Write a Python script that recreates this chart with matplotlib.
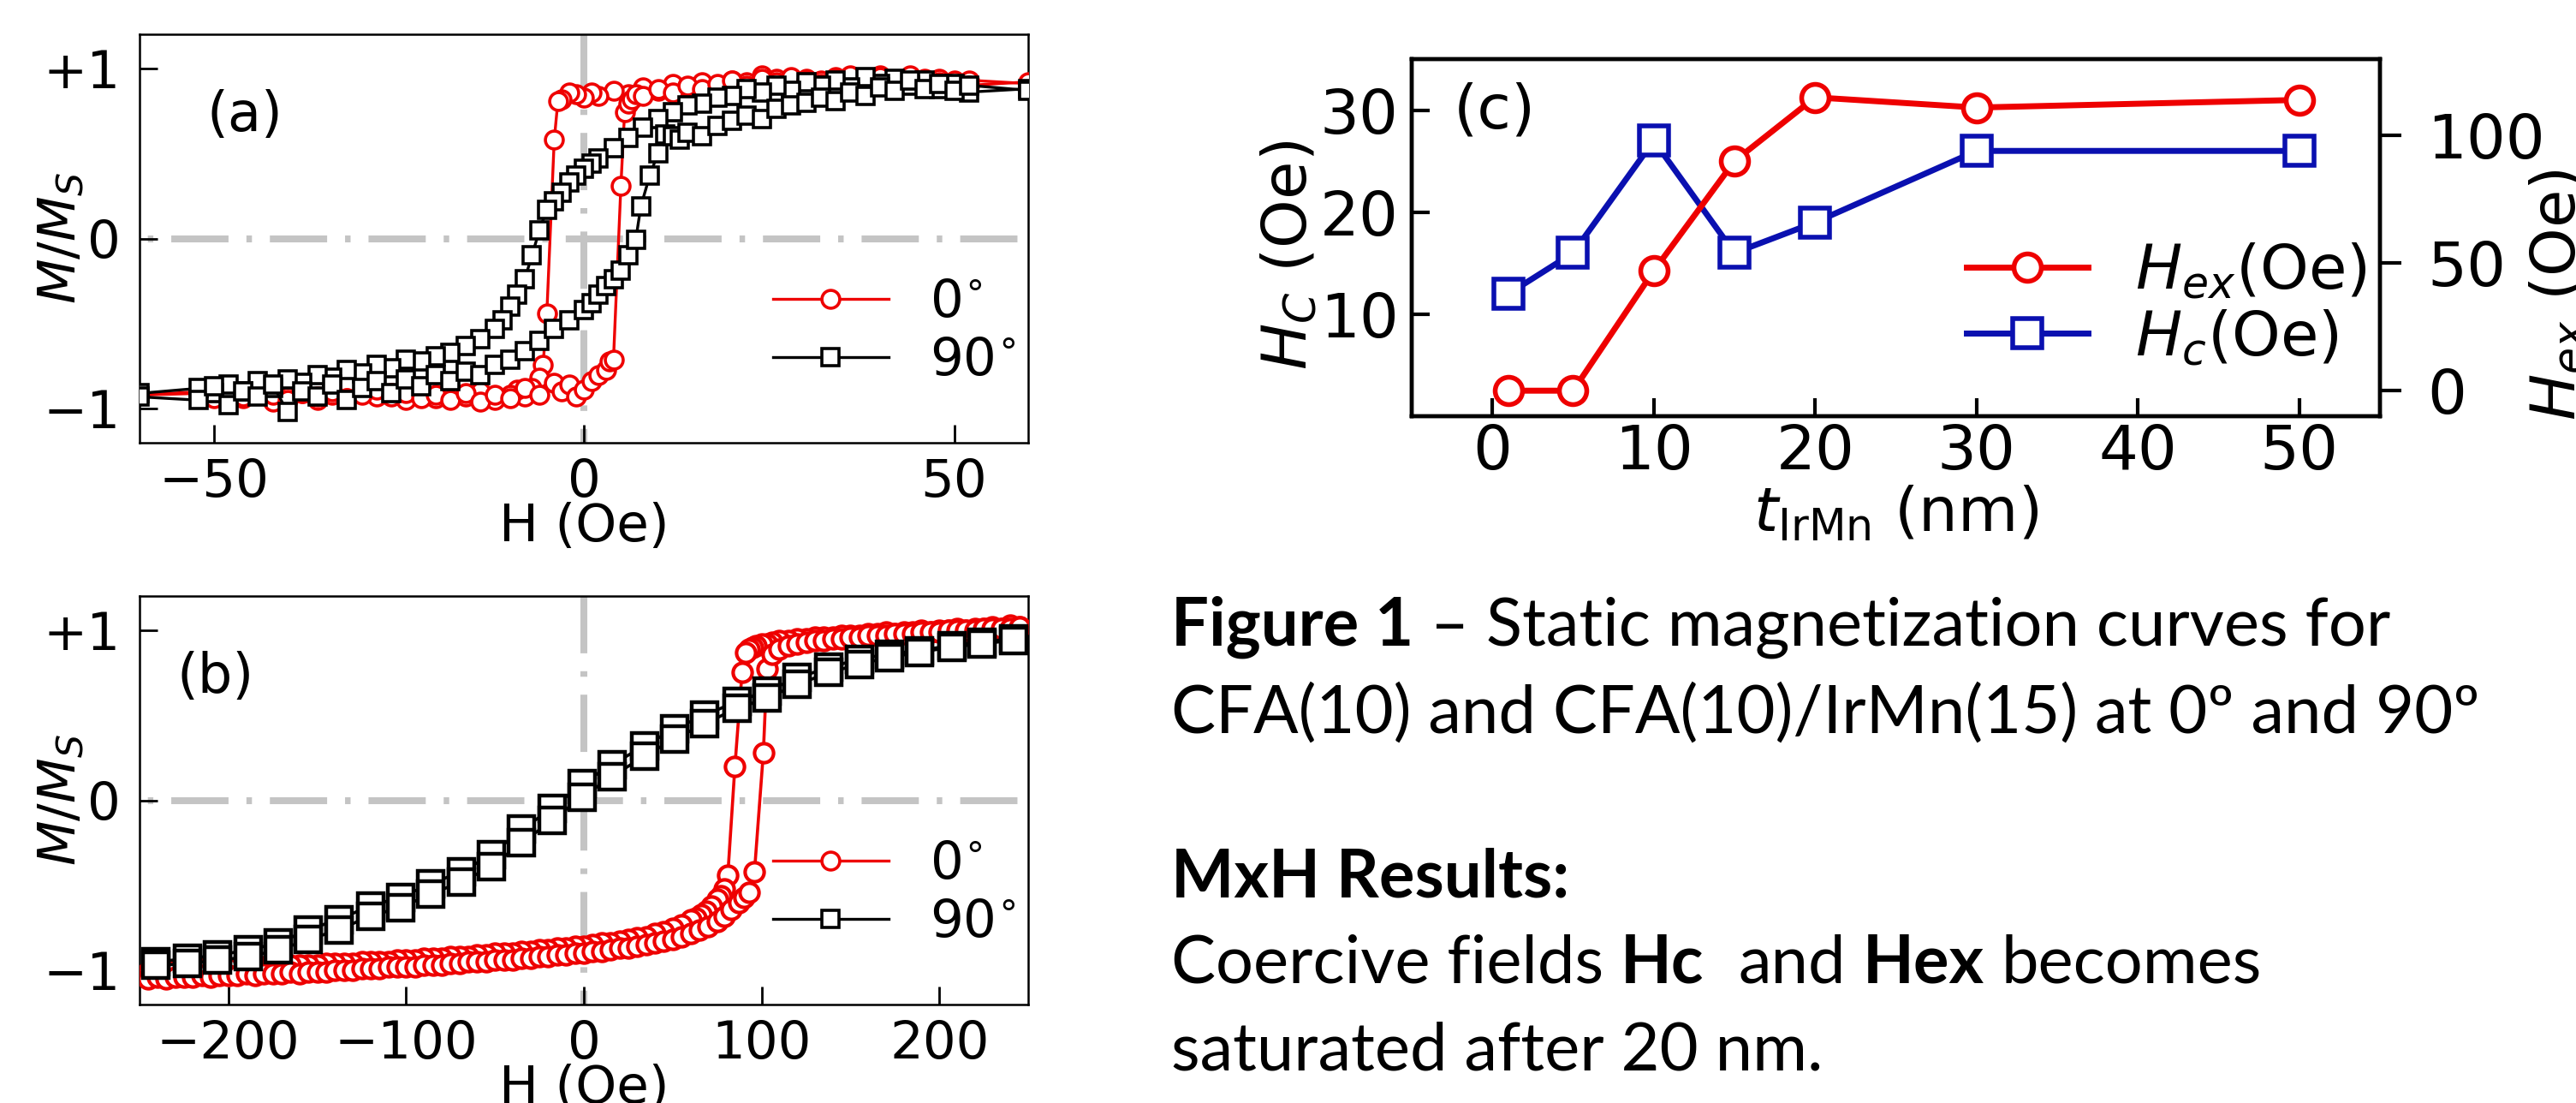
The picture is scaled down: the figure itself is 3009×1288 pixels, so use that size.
import matplotlib
matplotlib.use('Agg')
import matplotlib.pyplot as plt
from matplotlib.lines import Line2D

# ---- panel (a): CFA(10), 0 deg (red) and 90 deg (black) loops ----
a0_down_H = [60, 52, 50, 48, 46, 44, 42, 40, 38, 36,
             34, 32, 30, 28, 26, 24, 22, 20, 18, 16,
             14, 12, 10, 8, 6, 4, 2, 1, 0, -1,
             -2, -3, -3.5, -4, -5, -5.5, -6, -7, -8, -9,
             -10, -12, -14, -16, -18, -20, -22, -24, -26, -28,
             -30, -32, -34, -36, -38, -40, -42, -44, -46, -48,
             -50, -52, -60]
a0_down_M = [0.91, 0.93, 0.90, 0.94, 0.92, 0.95, 0.93, 0.96, 0.94, 0.92,
             0.95, 0.93, 0.94, 0.91, 0.94, 0.96, 0.92, 0.93, 0.90, 0.92,
             0.89, 0.91, 0.87, 0.89, 0.85, 0.87, 0.84, 0.86, 0.83, 0.85,
             0.86, 0.82, 0.81, 0.58, -0.44, -0.74, -0.82, -0.88, -0.93, -0.89,
             -0.92, -0.95, -0.90, -0.93, -0.91, -0.94, -0.92, -0.95, -0.91, -0.93,
             -0.90, -0.94, -0.92, -0.95, -0.91, -0.93, -0.96, -0.92, -0.94, -0.90,
             -0.93, -0.91, -0.92]
a0_up_H = [-60, -52, -50, -48, -46, -44, -42, -40, -38, -36,
           -34, -32, -30, -28, -26, -24, -22, -20, -18, -16,
           -14, -12, -10, -8, -6, -4, -3, -2, -1, 0,
           1, 2, 3, 3.5, 4, 5, 5.5, 6, 6.5, 7,
           8, 10, 12, 14, 16, 18, 20, 22, 24, 26,
           28, 30, 32, 34, 36, 38, 40, 42, 44, 46,
           48, 50, 52, 60]
a0_up_M = [-0.92, -0.90, -0.94, -0.91, -0.93, -0.89, -0.92, -0.95, -0.91, -0.93,
           -0.90, -0.94, -0.92, -0.89, -0.93, -0.91, -0.94, -0.92, -0.95, -0.91,
           -0.96, -0.92, -0.94, -0.88, -0.92, -0.85, -0.90, -0.86, -0.93, -0.89,
           -0.84, -0.80, -0.77, -0.72, -0.71, 0.31, 0.74, 0.79, 0.82, 0.85,
           0.84, 0.88, 0.86, 0.90, 0.88, 0.91, 0.93, 0.90, 0.94, 0.92,
           0.95, 0.93, 0.91, 0.94, 0.96, 0.92, 0.95, 0.93, 0.96, 0.94,
           0.92, 0.93, 0.90, 0.92]

a90_down_H = [60, 52, 50, 48, 46, 44, 42, 40, 38, 36,
              34, 32, 30, 28, 26, 24, 22, 20, 18, 16,
              14, 12, 10, 8, 6, 4, 2, 1, 0, -1,
              -2, -3, -4, -5, -6, -7, -8, -9, -10, -11,
              -12, -14, -16, -18, -20, -22, -24, -26, -28, -30,
              -32, -34, -36, -38, -40, -42, -44, -46, -48, -50,
              -52, -60]
a90_down_M = [0.88, 0.86, 0.91, 0.88, 0.93, 0.90, 0.94, 0.91, 0.95, 0.89,
              0.93, 0.90, 0.92, 0.87, 0.90, 0.86, 0.88, 0.84, 0.83, 0.79,
              0.78, 0.74, 0.70, 0.65, 0.59, 0.53, 0.47, 0.44, 0.41, 0.37,
              0.33, 0.27, 0.22, 0.17, 0.05, -0.10, -0.24, -0.33, -0.40, -0.48,
              -0.53, -0.59, -0.63, -0.67, -0.69, -0.72, -0.71, -0.76, -0.74, -0.79,
              -0.77, -0.82, -0.80, -0.85, -0.83, -0.88, -0.84, -0.90, -0.86, -0.91,
              -0.88, -0.91]
a90_up_H = [-60, -52, -50, -48, -46, -44, -42, -40, -38, -36,
            -34, -32, -30, -28, -26, -24, -22, -20, -18, -16,
            -14, -12, -10, -8, -6, -4, -2, 0, 1, 2,
            3, 4, 5, 6, 7, 7.7, 8.9, 10, 11, 12,
            13, 14, 16, 18, 20, 22, 24, 26, 28, 30,
            32, 34, 36, 38, 40, 42, 44, 46, 48, 50,
            52, 60]
a90_up_M = [-0.93, -0.95, -0.87, -0.98, -0.90, -0.93, -0.86, -1.02, -0.90, -0.93,
            -0.86, -0.95, -0.88, -0.84, -0.91, -0.83, -0.87, -0.80, -0.84, -0.78,
            -0.80, -0.74, -0.71, -0.66, -0.60, -0.53, -0.48, -0.42, -0.38, -0.33,
            -0.28, -0.24, -0.19, -0.10, -0.01, 0.19, 0.37, 0.50, 0.61, 0.60,
            0.58, 0.62, 0.60, 0.66, 0.69, 0.72, 0.70, 0.76, 0.78, 0.80,
            0.83, 0.81, 0.86, 0.84, 0.89, 0.87, 0.93, 0.88, 0.91, 0.87,
            0.90, 0.87]

# ---- panel (b): CFA(10)/IrMn(15) ----
b0_down_H = [245, 240, 235, 230, 225, 220, 215, 210, 205, 200,
             195, 190, 185, 180, 175, 170, 165, 160, 155, 150,
             145, 140, 135, 130, 125, 120, 115, 110, 106, 103,
             100, 97, 95, 93, 91, 89, 85, 81, 79, 77,
             75, 72, 69, 66, 63, 60, 55, 50, 45, 40,
             35, 30, 25, 20, 15, 10, 5, 0, -5, -10,
             -15, -20, -25, -30, -35, -40, -45, -50, -55, -60,
             -65, -70, -75, -80, -85, -90, -95, -100, -105, -110,
             -115, -120, -125, -130, -135, -140, -145, -150, -155, -160,
             -165, -170, -175, -180, -185, -190, -195, -200, -205, -210,
             -215, -220, -225, -230, -235, -240, -245]
b0_down_M = [1.02, 1.03, 1.01, 1.02, 1.01, 1.01, 1.00, 1.01, 1.00, 1.00,
             0.99, 1.00, 0.99, 0.99, 0.98, 0.99, 0.98, 0.98, 0.97, 0.97,
             0.97, 0.96, 0.96, 0.96, 0.95, 0.95, 0.94, 0.94, 0.93, 0.92,
             0.92, 0.91, 0.90, 0.89, 0.87, 0.75, 0.20, -0.44, -0.52, -0.56,
             -0.58, -0.62, -0.65, -0.67, -0.69, -0.70, -0.73, -0.75, -0.77, -0.78,
             -0.80, -0.81, -0.82, -0.83, -0.84, -0.84, -0.85, -0.86, -0.86, -0.87,
             -0.87, -0.88, -0.88, -0.89, -0.89, -0.90, -0.90, -0.90, -0.91, -0.91,
             -0.92, -0.92, -0.92, -0.93, -0.93, -0.93, -0.94, -0.94, -0.94, -0.95,
             -0.95, -0.95, -0.95, -0.96, -0.96, -0.96, -0.96, -0.97, -0.97, -0.97,
             -0.97, -0.98, -0.98, -0.98, -0.98, -0.98, -0.99, -0.99, -0.99, -0.99,
             -0.99, -1.00, -1.00, -1.00, -1.00, -1.01, -1.01]
b0_up_H = [-245, -240, -235, -230, -225, -220, -215, -210, -205, -200,
           -195, -190, -185, -180, -175, -170, -165, -160, -155, -150,
           -145, -140, -135, -130, -125, -120, -115, -110, -105, -100,
           -95, -90, -85, -80, -75, -70, -65, -60, -55, -50,
           -45, -40, -35, -30, -25, -20, -15, -10, -5, 0,
           5, 10, 15, 20, 25, 30, 35, 40, 45, 50,
           55, 60, 65, 70, 75, 79, 83, 87, 90, 93,
           96, 101, 103, 106, 110, 115, 120, 125, 130, 135,
           140, 145, 150, 155, 160, 165, 170, 175, 180, 185,
           190, 195, 200, 205, 210, 215, 220, 225, 230, 235,
           240, 245]
b0_up_M = [-1.05, -1.04, -1.05, -1.04, -1.04, -1.04, -1.03, -1.04, -1.03, -1.03,
           -1.03, -1.02, -1.03, -1.02, -1.02, -1.02, -1.01, -1.02, -1.01, -1.01,
           -1.01, -1.00, -1.00, -1.00, -0.99, -0.99, -0.99, -0.98, -0.98, -0.98,
           -0.98, -0.97, -0.97, -0.97, -0.96, -0.96, -0.95, -0.95, -0.95, -0.94,
           -0.94, -0.94, -0.93, -0.93, -0.92, -0.92, -0.91, -0.91, -0.90, -0.90,
           -0.89, -0.89, -0.88, -0.87, -0.87, -0.86, -0.85, -0.84, -0.83, -0.82,
           -0.80, -0.78, -0.76, -0.74, -0.71, -0.68, -0.64, -0.60, -0.57, -0.54,
           -0.42, 0.28, 0.77, 0.86, 0.89, 0.91, 0.92, 0.93, 0.94, 0.94,
           0.95, 0.95, 0.96, 0.96, 0.97, 0.97, 0.97, 0.98, 0.98, 0.98,
           0.99, 0.99, 0.99, 1.00, 1.00, 1.00, 1.00, 1.01, 1.01, 1.01,
           1.01, 1.02]

b90_H = [-241, -223, -206, -189, -172, -155, -138, -120, -103, -86,
         -69, -52, -35, -18, -1, 16, 34, 51, 68, 86,
         103, 120, 138, 155, 172, 189, 207, 224, 242]
b90_M_down = [-0.95, -0.93, -0.91, -0.88, -0.84, -0.76, -0.70, -0.62, -0.57, -0.49,
              -0.42, -0.32, -0.17, -0.05, 0.10, 0.21, 0.32, 0.42, 0.50, 0.58,
              0.64, 0.72, 0.78, 0.83, 0.86, 0.88, 0.91, 0.93, 0.95]
b90_M_up = [-0.97, -0.96, -0.94, -0.92, -0.88, -0.82, -0.76, -0.68, -0.63, -0.55,
            -0.48, -0.39, -0.25, -0.12, 0.02, 0.14, 0.26, 0.36, 0.45, 0.54,
            0.60, 0.68, 0.75, 0.80, 0.84, 0.87, 0.90, 0.92, 0.94]

# ---- panel (c): thickness series ----
t_irmn = [1, 5, 10, 15, 20, 30, 50]
hc_vals = [12, 16, 27, 16, 19, 26, 26]
hex_vals = [0, 0, 47, 90, 115, 111, 114]

RED = '#ee0000'
BLUE = '#0a10b0'
GRAY = '#c4c4c4'

W, H = 3009, 1288
fig = plt.figure(figsize=(W / 100, H / 100), dpi=100)


def px_axes(l, t, r, b):
    return fig.add_axes([l / W, 1 - b / H, (r - l) / W, (b - t) / H])


def loop_axes(ax, xlim, xticks, tag, tagx):
    ax.set_xlim(xlim)
    ax.set_ylim(-1.2, 1.2)
    ax.set_xticks(xticks)
    ax.set_yticks([-1, 0, 1])
    ax.set_yticklabels(['\u22121', '0', '+1'])
    ax.tick_params(axis='both', direction='in', length=15, width=2,
                   labelsize=44, top=False, right=False)
    ax.tick_params(axis='x', pad=12)
    ax.tick_params(axis='y', pad=16)
    for s in ax.spines.values():
        s.set_linewidth(1.8)
    ax.plot([xlim[0], xlim[1]], [0, 0], color=GRAY, lw=5.8,
            ls=(9.7, (8.3, 2.6, 0.8, 2.6)), zorder=1)
    ax.plot([0, 0], [1.2, -1.2], color=GRAY, lw=5.8,
            ls=(0, (8.3, 2.6, 0.8, 2.6)), zorder=1)
    ax.set_xlabel('H (Oe)', fontsize=44)
    ax.xaxis.set_label_coords(0.5, -0.145)
    ax.set_ylabel('$M/M_S$', fontsize=44)
    ax.yaxis.set_label_coords(-0.059, 0.5)
    ax.text(tagx, 0.8, tag, transform=ax.transAxes, fontsize=46,
            ha='left', va='center')


def loop_legend(ax):
    hr = Line2D([], [], color=RED, marker='o', ms=15, mew=2.6, mfc='white', lw=2.4)
    hk = Line2D([], [], color='black', marker='s', ms=15, mew=2.6, mfc='white', lw=2.4)
    ax.legend([hr, hk], ['$0^{\\circ}$', '$90^{\\circ}$'], loc='center left',
              bbox_to_anchor=(0.713, 0.271), frameon=False, fontsize=44,
              handlelength=2.2, handletextpad=0.8, labelspacing=0.15,
              borderpad=0, borderaxespad=0)


# panel (a)
ax_a = px_axes(163, 40, 1201, 517)
loop_axes(ax_a, (-60, 60), [-50, 0, 50], '(a)', 0.076)
ax_a.plot(a0_down_H, a0_down_M, color=RED, marker='o', ms=15, mew=2.6,
          mfc='white', lw=2.4, zorder=3)
ax_a.plot(a0_up_H, a0_up_M, color=RED, marker='o', ms=15, mew=2.6,
          mfc='white', lw=2.4, zorder=3)
ax_a.plot(a90_down_H, a90_down_M, color='black', marker='s', ms=15,
          mew=2.6, mfc='white', lw=2.4, zorder=4)
ax_a.plot(a90_up_H, a90_up_M, color='black', marker='s', ms=15, mew=2.6,
          mfc='white', lw=2.4, zorder=4)
loop_legend(ax_a)

# panel (b)
ax_b = px_axes(163, 696, 1201, 1173)
loop_axes(ax_b, (-250, 250), [-200, -100, 0, 100, 200], '(b)', 0.042)
ax_b.plot(b0_down_H, b0_down_M, color=RED, marker='o', ms=16, mew=3,
          mfc='white', lw=2.6, zorder=3)
ax_b.plot(b0_up_H, b0_up_M, color=RED, marker='o', ms=16, mew=3,
          mfc='white', lw=2.6, zorder=3)
ax_b.plot(b90_H[::-1], b90_M_down[::-1], color='black', marker='s',
          ms=21, mew=3.2, mfc='white', lw=2.6, zorder=4)
ax_b.plot(b90_H, b90_M_up, color='black', marker='s', ms=21, mew=3.2,
          mfc='white', lw=2.6, zorder=4)
loop_legend(ax_b)

# panel (c)
ax_c = px_axes(1649, 69, 2780, 486)
ax_r = ax_c.twinx()
hc_line, = ax_c.plot(t_irmn, hc_vals, color=BLUE, marker='s', ms=24, mew=4,
                     mfc='white', lw=5)
hex_line, = ax_r.plot(t_irmn, hex_vals, color=RED, marker='o', ms=23, mew=4,
                      mfc='white', lw=5)
ax_c.set_xlim(-5, 55)
ax_c.set_ylim(0, 35)
ax_r.set_ylim(-10, 130)
ax_c.set_xticks([0, 10, 20, 30, 40, 50])
ax_c.set_yticks([10, 20, 30])
ax_r.set_yticks([0, 50, 100])
ax_c.tick_params(axis='both', direction='in', length=15, width=3,
                 labelsize=52, top=False, right=False)
ax_c.tick_params(axis='x', pad=6)
ax_c.tick_params(axis='y', pad=11)
ax_r.tick_params(axis='y', direction='out', length=18, width=3,
                 labelsize=52, pad=22)
for a in (ax_c, ax_r):
    for s in a.spines.values():
        s.set_linewidth(3.2)
ax_c.set_xlabel('$t_{\\rm IrMn}$ (nm)', fontsize=52)
ax_c.xaxis.set_label_coords(0.5, -0.19)
ax_c.set_ylabel('$H_C$ (Oe)', fontsize=52)
ax_c.yaxis.set_label_coords(-0.096, 0.45)
ax_r.set_ylabel('$H_{ex}$ (Oe)', fontsize=52)
ax_r.yaxis.set_label_coords(1.153, 0.34)
ax_c.text(0.043, 0.853, '(c)', transform=ax_c.transAxes, fontsize=52,
          ha='left', va='center')
ax_r.legend([hex_line, hc_line], ['$H_{ex}$(Oe)', '$H_c$(Oe)'],
            loc='center left', bbox_to_anchor=(0.573, 0.312), frameon=False,
            fontsize=52, handlelength=1.97, handletextpad=0.75,
            labelspacing=0.1, borderpad=0, borderaxespad=0)

# ---- caption text ----
CAP_FONT = 'Lato'
CAP_SIZE = 56
renderer = fig.canvas.get_renderer()


def text_width(s, weight):
    t = fig.text(0, 0, s, fontsize=CAP_SIZE, family=CAP_FONT, fontweight=weight)
    w = t.get_window_extent(renderer=renderer).width
    t.remove()
    return w


space_w = text_width('a a', 'normal') - text_width('aa', 'normal')


def caption_line(pieces, x_px, base_px):
    x = x_px
    for s, weight, gap in pieces:
        x += gap * space_w
        t = fig.text(x / W, 1 - base_px / H, s, fontsize=CAP_SIZE,
                     family=CAP_FONT, fontweight=weight, ha='left',
                     va='baseline')
        x = t.get_window_extent(renderer=renderer).x1


X0 = 1368
caption_line([('Figure 1', 'bold', 0),
              ('\u2013 Static magnetization curves for', 'normal', 1)], X0, 754)
caption_line([('CFA(10) and CFA(10)/IrMn(15) at 0\u00ba and 90\u00ba', 'normal', 0)],
             X0, 856)
caption_line([('MxH Results:', 'bold', 0)], X0, 1048)
caption_line([('Coercive fields', 'normal', 0), ('Hc', 'bold', 1),
              ('and', 'normal', 2), ('Hex', 'bold', 1),
              ('becomes', 'normal', 1)], X0, 1148)
caption_line([('saturated after 20 nm.', 'normal', 0)], X0, 1250)

fig.savefig('out.png', dpi=100)
